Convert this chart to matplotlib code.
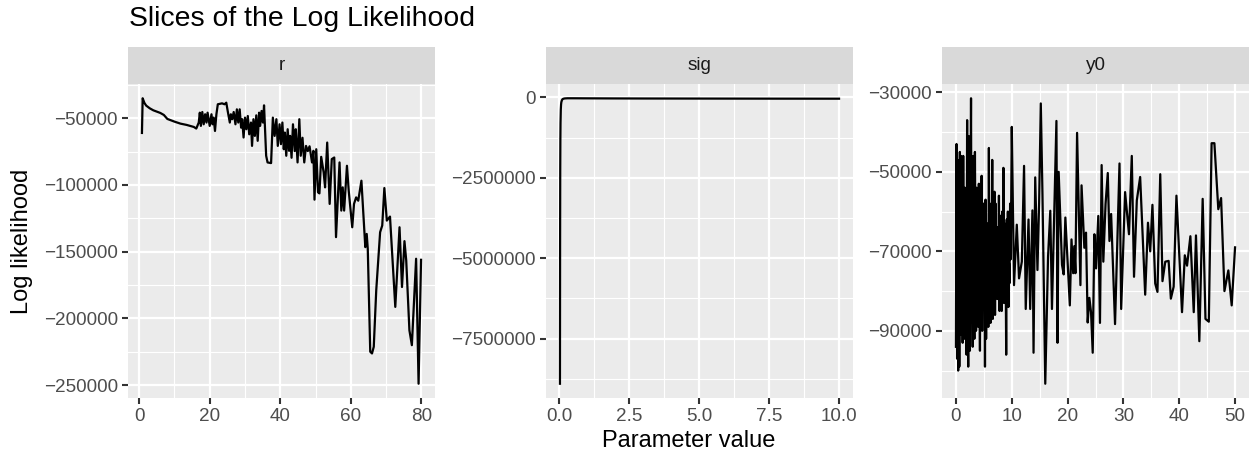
import numpy as np
import matplotlib
matplotlib.use("Agg")
import matplotlib.pyplot as plt
from matplotlib.ticker import FuncFormatter

plt.rcParams['font.family'] = ['Liberation Sans', 'DejaVu Sans']

# ---- data ----
r_x = [0.8, 1.0, 1.5, 2.0, 3.0, 4.0, 5.0, 6.0, 7.0, 8.0, 9.0, 10.0, 11.7, 13.5, 15.5,
       16.2, 16.9, 17.2, 17.5, 17.9, 18.3, 18.7, 19.1, 19.4, 20.0, 20.5, 20.8, 21.1,
       21.5, 21.9, 22.3, 23.5, 24.2, 24.7, 25.1, 25.7, 26.0, 26.4, 26.8, 27.3, 27.7,
       28.1, 28.5, 28.9, 29.2, 29.6, 30.0, 30.4, 30.8, 31.2, 31.7, 32.0, 32.4, 32.8,
       33.2, 33.6, 34.0, 34.3, 34.7, 35.1, 35.4, 36.0, 36.4, 37.4, 37.9, 38.4, 38.9,
       39.3, 39.8, 40.2, 40.6, 41.0, 41.3, 41.7, 42.1, 42.5, 42.8, 43.2, 43.6, 44.1,
       44.4, 44.9, 45.4, 45.8, 46.3, 46.8, 47.3, 47.8, 48.3, 49.0, 49.4, 49.7, 50.2,
       50.7, 51.1, 51.6, 52.3, 52.7, 53.3, 54.0, 54.6, 55.3, 55.8, 56.8, 57.3, 57.7,
       58.1, 58.9, 59.4, 60.4, 60.9, 61.5, 62.1, 63.0, 64.1, 64.5, 64.8, 65.5, 66.0,
       66.5, 67.2, 68.3, 68.9, 69.5, 70.2, 71.1, 72.6, 73.8, 74.5, 75.2, 75.7, 76.6,
       77.3, 78.5, 79.2, 79.9]
r_ll = [-61000, -35000, -38500, -40500, -42500, -44000, -45000, -46000, -47500, -50500,
        -51500, -52500, -54000, -55000, -56500, -57700, -53200, -45800, -55700, -45300,
        -54500, -47000, -53200, -45800, -55700, -47000, -54500, -49500, -59500, -47000,
        -39500, -38800, -39500, -38300, -44500, -53200, -47000, -50700, -45300, -54500,
        -43300, -53200, -43300, -57000, -50700, -64400, -49500, -58200, -48300, -62000,
        -53200, -70700, -50700, -63200, -47800, -66900, -45800, -55700, -44500, -53200,
        -40300, -78100, -83100, -83600, -49500, -63200, -50700, -70700, -54500, -69400,
        -53200, -73200, -60700, -78100, -58200, -74400, -63200, -79600, -54500, -74600,
        -58200, -83100, -50700, -78100, -64600, -83100, -70700, -74600, -71000, -83100,
        -74400, -111000, -73200, -105500, -106300, -78900, -90600, -101800, -68200,
        -114200, -80600, -79400, -139100, -83100, -119200, -101800, -119200, -85600,
        -104300, -131700, -114200, -109300, -111800, -96800, -146600, -136700, -147900,
        -225000, -226300, -221300, -179000, -135400, -130400, -102300, -126700, -123700,
        -191400, -131700, -176500, -142100, -156600, -208900, -220100, -155300, -249000,
        -156100]

sig_x = [0.03, 0.035, 0.04, 0.045, 0.05, 0.06, 0.07, 0.08, 0.1, 0.12, 0.15, 0.2, 0.3,
         0.5, 1.0, 2.0, 3.0, 4.0, 5.0, 6.0, 7.0, 8.0, 9.0, 10.0]
sig_ll = [-8900000, -4600000, -2300000, -1300000, -800000, -380000, -220000, -150000,
          -90000, -60000, -45000, -35000, -30000, -30000, -32000, -35000, -37000,
          -38000, -39000, -40000, -41000, -42000, -42500, -43000]

y0_x = [0.0, 0.1, 0.2, 0.3, 0.4, 0.5, 0.6, 0.7, 0.8, 0.9, 1.0, 1.1, 1.2, 1.3, 1.4, 1.5,
        1.6, 1.7, 1.8, 1.9, 2.0, 2.1, 2.2, 2.3, 2.4, 2.5, 2.6, 2.7, 2.8, 2.9, 3.0, 3.1,
        3.2, 3.3, 3.4, 3.5, 3.6, 3.7, 3.8, 3.9, 4.0, 4.1, 4.2, 4.3, 4.4, 4.5, 4.6, 4.7,
        4.8, 4.9, 5.0, 5.1, 5.2, 5.3, 5.4, 5.5, 5.6, 5.7, 5.8, 5.9, 6.0, 6.1, 6.2, 6.3,
        6.4, 6.5, 6.6, 6.7, 6.8, 6.9, 7.0, 7.1, 7.2, 7.3, 7.4, 7.5, 7.6, 7.7, 7.8, 7.9,
        8.0, 8.1, 8.2, 8.3, 8.4, 8.5, 8.6, 8.7, 8.8, 8.9, 9.0, 9.1, 9.2, 9.3, 9.4, 9.5,
        9.6, 9.7, 9.8, 9.9, 10.0, 10.4, 10.9, 11.3, 11.8, 12.2, 12.5, 13.0, 13.3, 13.7,
        13.9, 14.2, 14.6, 14.9, 15.2, 15.5, 16.0, 16.5, 16.9, 17.2, 18.0, 18.2, 18.4,
        19.0, 19.3, 19.6, 20.4, 20.7, 21.0, 21.2, 21.4, 21.7, 22.3, 22.5, 23.0, 23.3,
        23.6, 23.9, 24.2, 24.5, 24.8, 25.1, 25.5, 25.8, 26.1, 26.4, 26.8, 27.2, 27.5,
        27.8, 28.5, 29.3, 29.6, 30.3, 31.0, 31.5, 31.9, 32.4, 33.0, 33.9, 34.4, 34.8,
        35.2, 35.7, 36.1, 36.6, 37.0, 37.5, 38.1, 38.5, 39.0, 39.5, 40.5, 41.0, 41.4,
        42.0, 42.6, 43.0, 43.6, 44.2, 44.7, 45.3, 45.8, 46.3, 47.0, 47.5, 48.1, 48.8,
        49.4, 50.0]
y0_ll = [-94000, -43000, -97000, -47000, -100000, -52000, -99000, -45000, -91000, -46000,
         -88000, -60000, -93000, -46000, -79000, -92000, -54000, -86000, -61000, -96000,
         -37000, -82000, -99000, -41000, -76000, -95000, -58000, -31500, -88000, -63000,
         -94000, -46000, -81000, -92000, -45000, -72000, -90000, -54000, -84000, -70000,
         -89000, -53000, -80000, -95000, -63000, -76000, -51000, -90000, -67000, -58000,
         -82000, -62000, -99000, -57000, -92000, -74000, -83000, -63000, -89000, -44000,
         -79000, -63000, -88000, -58000, -79000, -47000, -87000, -59000, -72000, -55000,
         -86000, -58000, -80000, -64000, -82000, -64000, -77000, -56000, -85000, -73000,
         -79000, -61000, -85000, -60000, -78000, -49000, -83000, -63000, -78000, -73000,
         -96000, -62000, -82000, -60000, -84000, -73000, -78000, -58000, -72000, -57000,
         -38700, -78500, -63300, -76800, -72600, -48500, -84500, -62000, -84500, -59700,
         -95500, -51400, -74700, -57800, -32800, -55700, -103300, -71300, -59800, -84500,
         -37200, -93000, -50000, -73400, -75800, -61500, -83600, -67000, -75500, -68700,
         -75500, -40200, -78500, -53400, -69100, -65300, -87900, -81700, -85300, -95500,
         -65700, -74300, -61100, -88000, -48300, -72600, -58100, -50300, -67400, -60600,
         -88300, -47900, -84500, -55100, -65700, -46000, -76400, -57200, -51300, -80900,
         -62800, -70000, -58300, -78100, -80200, -50600, -77500, -72600, -72400, -81900,
         -78900, -56000, -85300, -71000, -73600, -66200, -85300, -66000, -92600, -56800,
         -87000, -87700, -42800, -42800, -59400, -56600, -80000, -74800, -83600, -69000]

facets = ["r", "sig", "y0"]

W, H = 1251, 457
fig = plt.figure(figsize=(W / 100, H / 100), dpi=100)

panel_left = [128, 546, 942]
panel_w = 307
panel_top, panel_bot = 84, 398
strip_h = 37

def minus(s):
    return s.replace("-", "\u2212")

settings = [
    (r_x, r_ll, [0, 20, 40, 60, 80], [10, 30, 50, 70],
     [-250000, -200000, -150000, -100000, -50000],
     [-225000, -175000, -125000, -75000, -25000], "{:.0f}"),
    (sig_x, sig_ll, [0, 2.5, 5, 7.5, 10], [1.25, 3.75, 6.25, 8.75],
     [-7500000, -5000000, -2500000, 0],
     [-8750000, -6250000, -3750000, -1250000], "{:.1f}"),
    (y0_x, y0_ll, [0, 10, 20, 30, 40, 50], [5, 15, 25, 35, 45],
     [-90000, -70000, -50000, -30000],
     [-100000, -80000, -60000, -40000], "{:.0f}"),
]

for i, (xs, ys, xt, xm, yt, ym, xfmt) in enumerate(settings):
    ax = fig.add_axes([panel_left[i] / W, (H - panel_bot) / H,
                       panel_w / W, (panel_bot - panel_top) / H])
    ax.set_facecolor("#EBEBEB")
    ax.plot(xs, ys, color="black", lw=1.6, solid_joinstyle="round")
    ax.margins(x=0.05, y=0.05)
    ax.set_xticks(xt)
    ax.set_xticks(xm, minor=True)
    ax.set_yticks(yt)
    ax.set_yticks(ym, minor=True)
    lo, hi = min(xs), max(xs)
    ax.set_xlim(lo - 0.05 * (hi - lo), hi + 0.05 * (hi - lo))
    lo, hi = min(ys), max(ys)
    ax.set_ylim(lo - 0.05 * (hi - lo), hi + 0.05 * (hi - lo))
    ax.xaxis.set_major_formatter(FuncFormatter(lambda v, p, f=xfmt: minus(f.format(v))))
    ax.yaxis.set_major_formatter(FuncFormatter(lambda v, p: minus("{:.0f}".format(v))))
    ax.grid(which="major", color="white", lw=1.6)
    ax.grid(which="minor", color="white", lw=0.8)
    ax.set_axisbelow(True)
    for s in ax.spines.values():
        s.set_visible(False)
    ax.tick_params(which="major", direction="out", length=4.2, width=1.5,
                   color="#333333", labelcolor="#4D4D4D", labelsize=13.6, pad=3.2)
    ax.tick_params(which="minor", length=0)

    # facet strip
    sax = fig.add_axes([panel_left[i] / W, (H - panel_top) / H,
                        panel_w / W, strip_h / H])
    sax.set_facecolor("#D9D9D9")
    sax.set_xticks([])
    sax.set_yticks([])
    for s in sax.spines.values():
        s.set_visible(False)
    sax.text(0.5, 0.5, facets[i], ha="center", va="center",
             fontsize=13.6, color="#1A1A1A", transform=sax.transAxes)

fig.text(129 / W, 1 - 19 / H, "Slices of the Log Likelihood", fontsize=20.4,
         ha="left", va="center", color="black")
fig.text(688.5 / W, 1 - 441 / H, "Parameter value", fontsize=17,
         ha="center", va="center", color="black")
fig.text(22 / W, 1 - 241 / H, "Log likelihood", fontsize=17, rotation=90,
         ha="center", va="center", color="black")

fig.savefig("out.png", dpi=100)
